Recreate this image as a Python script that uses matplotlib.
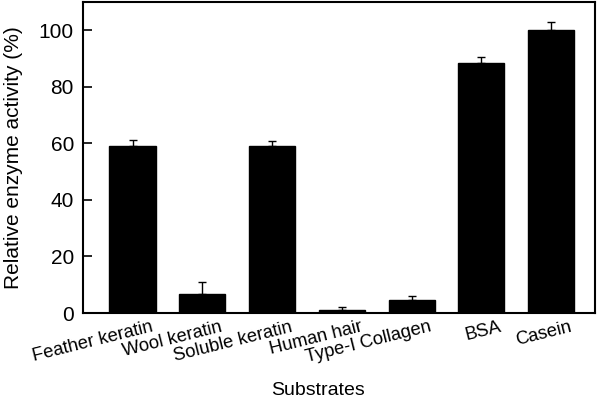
import matplotlib
matplotlib.use("Agg")
from matplotlib import pyplot as plt
from matplotlib.transforms import ScaledTranslation
import numpy as np

substrates = ["Feather keratin", "Wool keratin", "Soluble keratin", "Human hair",
              "Type-I Collagen", "BSA", "Casein"]
activity = [59.2, 6.9, 58.9, 1.1, 4.6, 88.4, 100.1]
err = [2.1, 4.1, 1.8, 1.1, 1.3, 2.2, 2.9]

plt.rcParams['font.family'] = ['Liberation Sans', 'DejaVu Sans']

fig = plt.figure(figsize=(5.97, 3.99), dpi=100)
ax = fig.add_axes([0.139, 0.2155, 0.8576, 0.7795])

x = np.arange(len(substrates))
ax.bar(x, activity, width=0.66, color='black', edgecolor='black')
ax.errorbar(x, activity, yerr=[np.zeros(len(err)), err], fmt='none',
            ecolor='black', elinewidth=1, capsize=3, capthick=1)

ax.set_xlim(-0.71, 6.63)
ax.set_ylim(0, 110)
ax.set_yticks([0, 20, 40, 60, 80, 100])
ax.tick_params(axis='y', direction='in', length=6.5, width=1.2, labelsize=15, pad=6.5)
ax.tick_params(axis='x', length=0, labelsize=13.2, pad=13)
ax.set_xticks(x)
ax.set_xticklabels(substrates, rotation=14, ha='right', va='baseline', rotation_mode='anchor')
# shift the labels to the right, like in the original figure
shift = ScaledTranslation(0.21, 0, fig.dpi_scale_trans)
for lab in ax.get_xticklabels():
    lab.set_transform(lab.get_transform() + shift)

for s in ax.spines.values():
    s.set_linewidth(1.5)

ax.set_ylabel("Relative enzyme activity (%)", fontsize=15)
ax.yaxis.set_label_coords(-0.118, 0.5)
ax.set_xlabel("Substrates", fontsize=14)
ax.xaxis.set_label_coords(0.459, -0.222)

plt.savefig('out.png', dpi=100)
